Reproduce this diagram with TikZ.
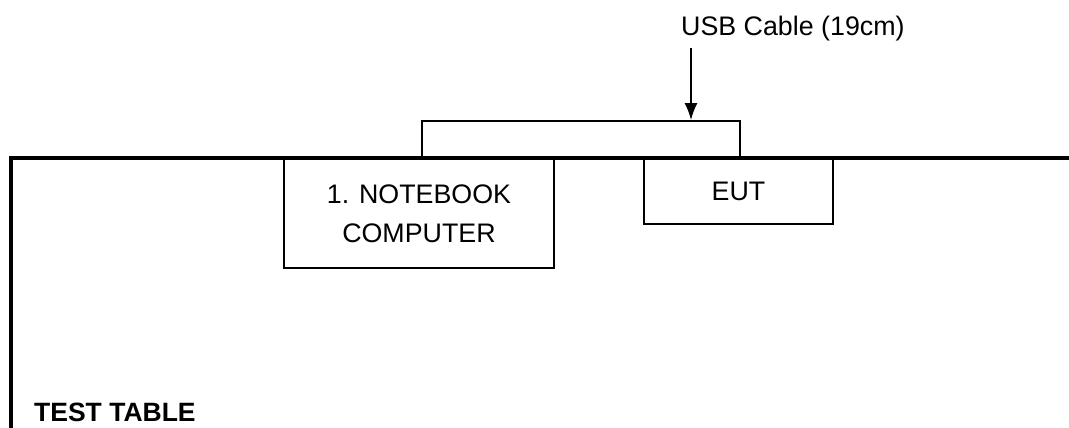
\documentclass[tikz,border=0pt]{standalone}
\usepackage{fontspec}
\setmainfont{Liberation Sans}
\usetikzlibrary{arrows.meta, positioning}

\begin{document}
\begin{tikzpicture}[x=1pt, y=-1pt,
    every node/.style={font=\fontsize{26.8}{39}\selectfont},
    box/.style={draw, line width=1.9pt, align=center, inner sep=0pt, anchor=north west},
    tableEdge/.style={line width=4pt},
    pointer/.style={line width=1.9pt, -{Latex[length=17pt, width=13pt]}}]
  \useasboundingbox (0,0) rectangle (1069,428);
  % test table
  \draw[tableEdge] (11,428) -- (11,158) -- (1069,158);
  \node[font=\fontsize{26.5}{30}\selectfont\bfseries, anchor=base west, inner sep=0pt] (tbl) at (34,421) {TEST TABLE};
  % equipment on the table
  \node[box, minimum width=270pt, minimum height=109pt] (nb) at (283,158) {1. NOTEBOOK\\COMPUTER};
  \node[box, minimum width=189pt, minimum height=65pt] (eut) at (643,158) {EUT};
  % cable
  \node[box, anchor=south west, minimum width=318pt, minimum height=36pt] (cable) at (421,158) {};
  \node[anchor=base west, inner sep=0pt] (usb) at (681,36) {USB Cable (19cm)};
  \coordinate (drop) at ([xshift=10pt, yshift=-6pt]usb.south west);
  \draw[pointer] (drop) -- (drop |- cable.north);
\end{tikzpicture}
\end{document}
